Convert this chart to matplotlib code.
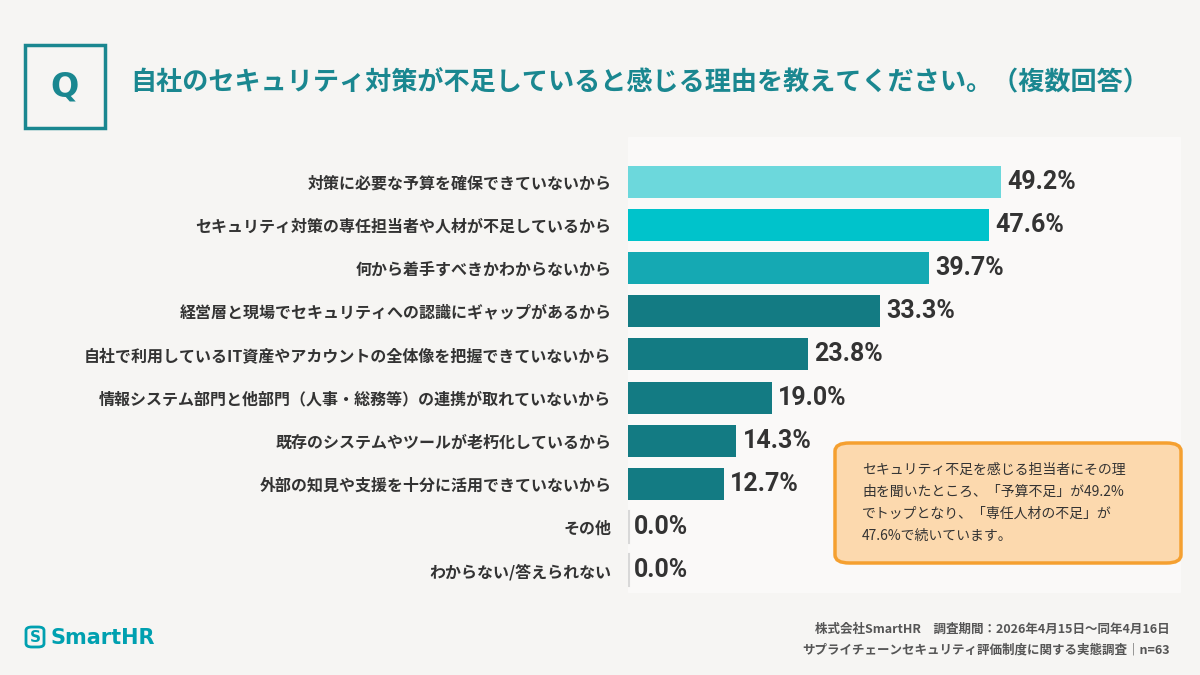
import matplotlib.pyplot as plt
from matplotlib.patches import FancyBboxPatch, Rectangle

plt.rcParams['font.family'] = ['Noto Sans CJK JP', 'DejaVu Sans']

labels = ['対策に必要な予算を確保できていないから',
          'セキュリティ対策の専任担当者や人材が不足しているから',
          '何から着手すべきかわからないから',
          '経営層と現場でセキュリティへの認識にギャップがあるから',
          '自社で利用しているIT資産やアカウントの全体像を把握できていないから',
          '情報システム部門と他部門（人事・総務等）の連携が取れていないから',
          '既存のシステムやツールが老朽化しているから',
          '外部の知見や支援を十分に活用できていないから',
          'その他',
          'わからない/答えられない']
values = [49.2, 47.6, 39.7, 33.3, 23.8, 19.0, 14.3, 12.7, 0.0, 0.0]
colors = ['#6cd8dc', '#00c3cb', '#15a9b3', '#137b83', '#137b83', '#137b83',
          '#137b83', '#137b83', '#137b83', '#137b83']

W, H = 1200, 675
fig = plt.figure(figsize=(W / 100, H / 100), dpi=100, facecolor='#f6f5f3')
teal = '#1a8790'

# panel behind bars
fig.patches.append(Rectangle((628 / W, 1 - 592 / H), 552 / W, 455 / H,
                             transform=fig.transFigure, color='#faf9f8', zorder=-5))

# Q box and title
fig.patches.append(Rectangle((25 / W, 1 - 128 / H), 80 / W, 83 / H, transform=fig.transFigure,
                             fill=False, edgecolor=teal, lw=2.5))
fig.text(65 / W, 1 - 87 / H, 'Q', color=teal, fontsize=24, fontweight='bold',
         ha='center', va='center', family='DejaVu Sans')
fig.text(130 / W, 1 - 83 / H, '自社のセキュリティ対策が不足していると感じる理由を教えてください。（複数回答）',
         color=teal, fontsize=18.8, fontweight='bold', va='center')

ax = fig.add_axes([628 / W, 1 - 592 / H, 552 / W, 432 / H])
ax.set_zorder(2)
ax.set_facecolor('none')
y = list(range(len(values)))
ax.barh(y, values, height=0.74, color=colors)
ax.set_ylim(9.5, -0.5)
ax.set_xlim(0, 552 / 7.58)
for i, v in enumerate(values):
    ax.text(v + 0.8, i, f'{v:.1f}%', va='center', ha='left', fontsize=18,
            fontweight='bold', color='#333333', family='Roboto')
    if v == 0:
        ax.plot([0.15, 0.15], [i - 0.37, i + 0.37], color='#d8d8d8', lw=1.5)
ax.set_yticks(y)
ax.set_yticklabels(labels, fontsize=11.5, fontweight='bold', color='#333333')
ax.tick_params(axis='y', length=0, pad=12)
ax.set_xticks([])
for s in ax.spines.values():
    s.set_visible(False)

# callout
fig.patches.append(FancyBboxPatch((835 / W, 1 - 563 / H), 346 / W, 120 / H,
                                  boxstyle='round,pad=0,rounding_size=0.012',
                                  transform=fig.transFigure, facecolor='#fcd9ae',
                                  edgecolor='#f5a030', lw=2.5, zorder=3))
fig.text(862 / W, 1 - 503 / H,
         'セキュリティ不足を感じる担当者にその理\n由を聞いたところ、「予算不足」が49.2%\nでトップとなり、「専任人材の不足」が\n47.6%で続いています。',
         fontsize=10, color='#333333', va='center', linespacing=1.75, zorder=4)

# footer logo
fig.patches.append(FancyBboxPatch((26 / W, 1 - 647 / H), 18 / W, 20 / H,
                                  boxstyle='round,pad=0,rounding_size=0.005',
                                  transform=fig.transFigure, fill=False,
                                  edgecolor='#00a0b0', lw=2))
fig.text(35 / W, 1 - 637 / H, 'S', color='#00a0b0', fontsize=11,
         fontweight='bold', ha='center', va='center', family='DejaVu Sans')
fig.text(50 / W, 1 - 638 / H, 'SmartHR', color='#00a0b0', fontsize=15,
         fontweight='bold', va='center', family='DejaVu Sans')
fig.text(1170 / W, 1 - 629 / H, '株式会社SmartHR　調査期間：2026年4月15日〜同年4月16日',
         fontsize=9, color='#555555', ha='right', va='center', fontweight='bold')
fig.text(1170 / W, 1 - 650 / H, 'サプライチェーンセキュリティ評価制度に関する実態調査｜n=63',
         fontsize=9, color='#555555', ha='right', va='center', fontweight='bold')

fig.savefig('out.png', dpi=100, facecolor=fig.get_facecolor())
